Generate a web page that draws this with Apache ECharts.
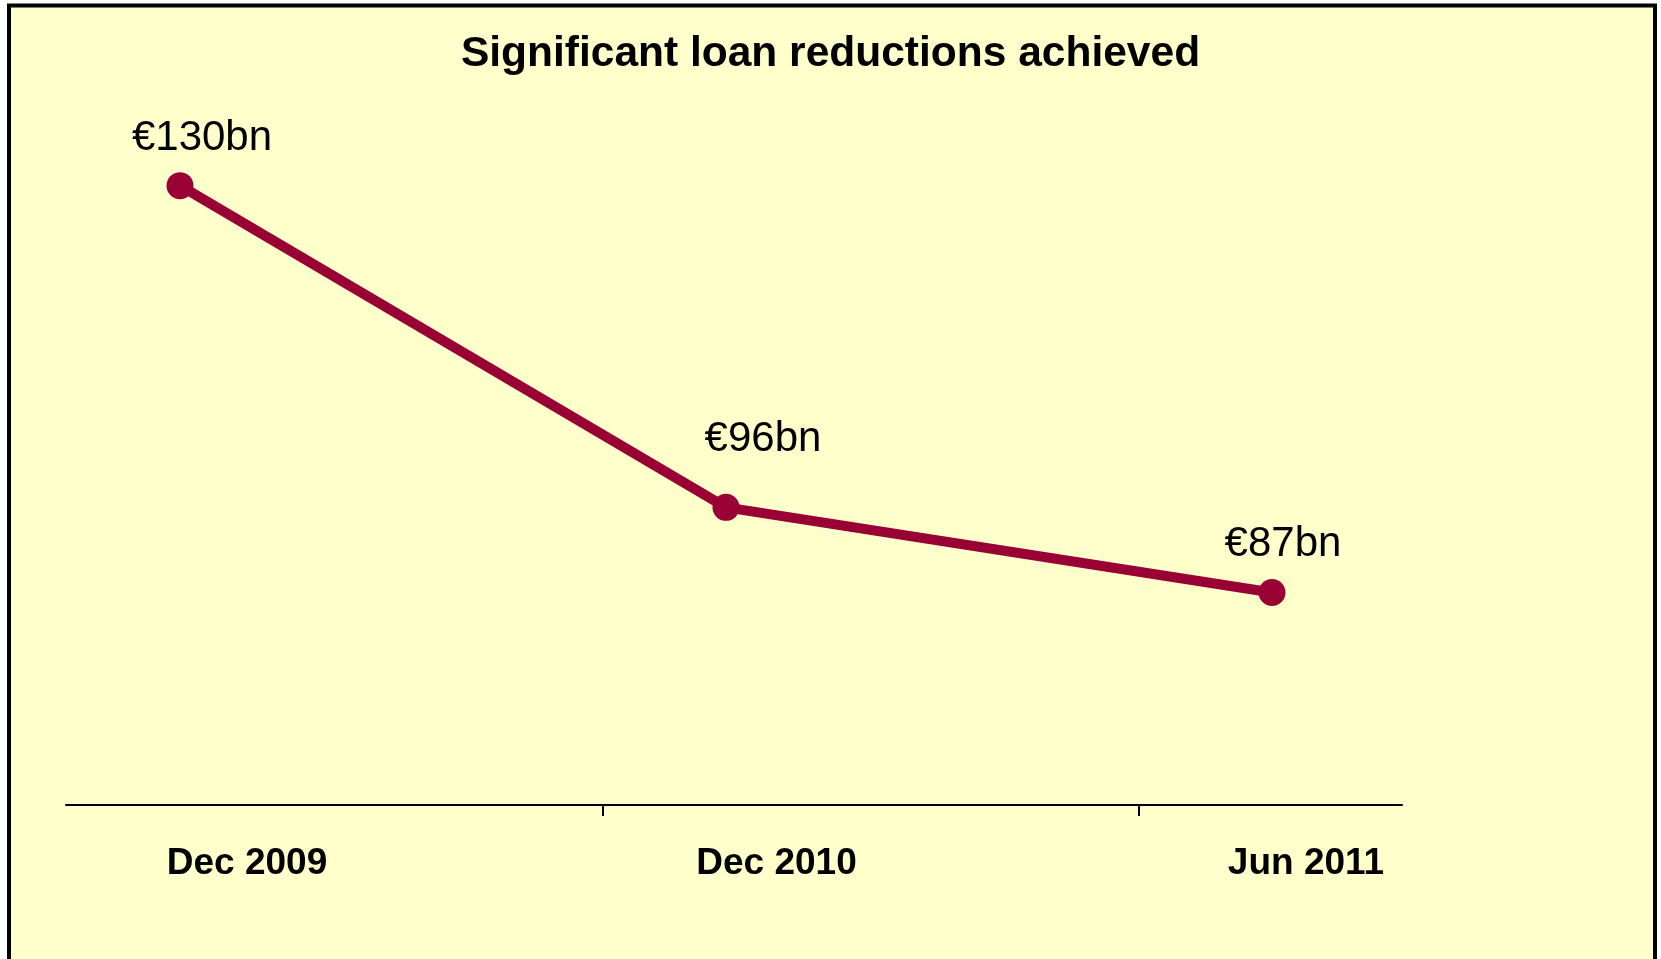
<!DOCTYPE html>
<html>
<head>
<meta charset="utf-8">
<script src="https://cdn.jsdelivr.net/npm/echarts@6/dist/echarts.min.js"></script>
<style>
html,body{margin:0;padding:0;background:#fff;}
#chart{width:1661px;height:959px;}
</style>
</head>
<body>
<div id="chart"></div>
<script>
const titleText = 'Significant loan reductions achieved';
const categories = ['Dec 2009', 'Dec 2010', 'Jun 2011'];
const loans = [130, 96, 87];
const tickValues = [1, 2];

const labelOffsets = [[22, -8], [37, -28], [11, -9]];

const chart = echarts.init(document.getElementById('chart'));
const option = {
  backgroundColor: '#ffffff',
  animation: false,
  graphic: [{
    type: 'rect', z: -10, silent: true,
    shape: { x: 9, y: 5.5, width: 1646, height: 1000 },
    style: { fill: '#FFFFCC', stroke: '#000000', lineWidth: 4 }
  }],
  title: {
    text: titleText,
    left: 'center',
    top: 28,
    textStyle: {
      fontFamily: "'Liberation Sans', Arial, sans-serif",
      fontWeight: 'bold', fontSize: 42.5, lineHeight: 42, color: '#000'
    }
  },
  grid: [
    { left: 180, width: 1092, top: 91, height: 757 },
    { left: 247, width: 1059, top: 700, height: 105 },
    { left: 66, width: 1336, top: 700, height: 105 }
  ],
  xAxis: [
    { type: 'category', gridIndex: 0, data: categories, boundaryGap: false, show: false },
    { type: 'category', gridIndex: 1, data: categories, boundaryGap: false,
      axisLine: { show: false }, axisTick: { show: false },
      axisLabel: { show: true, margin: 40, interval: 0, fontFamily: "'Liberation Sans', Arial, sans-serif",
        fontWeight: 'bold', fontSize: 37, lineHeight: 37, color: '#000' } },
    { type: 'value', gridIndex: 2, min: 0, max: 2.49, interval: 1,
      axisLine: { show: true, lineStyle: { color: '#000', width: 2 } },
      axisTick: { show: true, length: 11, customValues: tickValues, lineStyle: { color: '#000', width: 2 } },
      axisLabel: { show: false }, splitLine: { show: false } }
  ],
  yAxis: [
    { type: 'value', gridIndex: 0, min: 60, max: 140, show: false },
    { type: 'value', gridIndex: 1, show: false },
    { type: 'value', gridIndex: 2, show: false }
  ],
  series: [{
    type: 'line',
    xAxisIndex: 0, yAxisIndex: 0,
    data: loans.map((v, i) => ({
      value: v,
      label: { offset: labelOffsets[i] }
    })),
    symbol: 'circle',
    symbolSize: 27,
    itemStyle: { color: '#990033' },
    lineStyle: { color: '#990033', width: 10 },
    label: {
      show: true, position: 'top', distance: 5,
      formatter: p => '€' + p.value + 'bn',
      fontFamily: "'Liberation Sans', Arial, sans-serif",
      fontSize: 42, lineHeight: 42, color: '#000'
    }
  }]
};
chart.setOption(option);
</script>
</body>
</html>
